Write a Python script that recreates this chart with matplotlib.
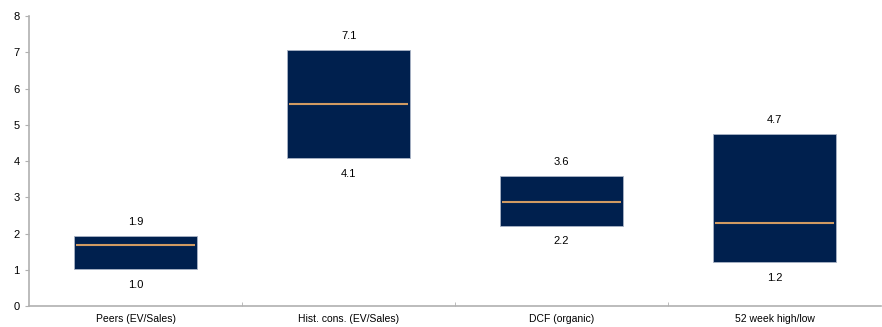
import matplotlib.pyplot as plt
import numpy as np

plt.rcParams['font.family'] = ['Liberation Sans', 'DejaVu Sans']

cats = ["Peers (EV/Sales)", "Hist. cons. (EV/Sales)", "DCF (organic)", "52 week high/low"]
low = [1.03, 4.08, 2.22, 1.21]
high = [1.93, 7.06, 3.58, 4.74]
mid = [1.68, 5.58, 2.87, 2.28]
low_lbl = ["1.0", "4.1", "2.2", "1.2"]
high_lbl = ["1.9", "7.1", "3.6", "4.7"]

fig = plt.figure(figsize=(8.82, 3.27), dpi=100)
ax = fig.add_axes([0.033, 0.064, 0.966, 0.887])

x = np.arange(len(cats))
w = 0.58
ax.bar(x, np.array(high) - np.array(low), bottom=low, width=w,
       color="#00204e", edgecolor="#a9b4c6", linewidth=0.6, zorder=2)
ax.hlines(mid, x - w / 2 + 0.01, x + w / 2 - 0.01, color="#d09a62", linewidth=1.5, zorder=3)

for i in range(len(cats)):
    ax.text(x[i], high[i] + 0.25, high_lbl[i], ha="center", va="bottom", fontsize=8)
    ax.text(x[i], low[i] - 0.3, low_lbl[i], ha="center", va="top", fontsize=8)

ax.set_xlim(-0.5, len(cats) - 0.5)
ax.set_ylim(0, 8)
ax.set_yticks(range(0, 9))
ax.set_xticks(x)
ax.set_xticklabels(cats, fontsize=7.5)
ax.set_xticks(np.arange(0.5, len(cats) - 1, 1), minor=True)
ax.tick_params(axis="x", which="major", length=0, pad=6)
ax.tick_params(axis="x", which="minor", length=3, color="#b0b0b0", direction="in")
ax.tick_params(axis="y", length=3, color="#b0b0b0", labelsize=8, pad=4)
for s in ["top", "right"]:
    ax.spines[s].set_visible(False)
for s in ["left", "bottom"]:
    ax.spines[s].set_color("#b0b0b0")
    ax.spines[s].set_linewidth(1.2)

fig.savefig("out.png", dpi=100)
